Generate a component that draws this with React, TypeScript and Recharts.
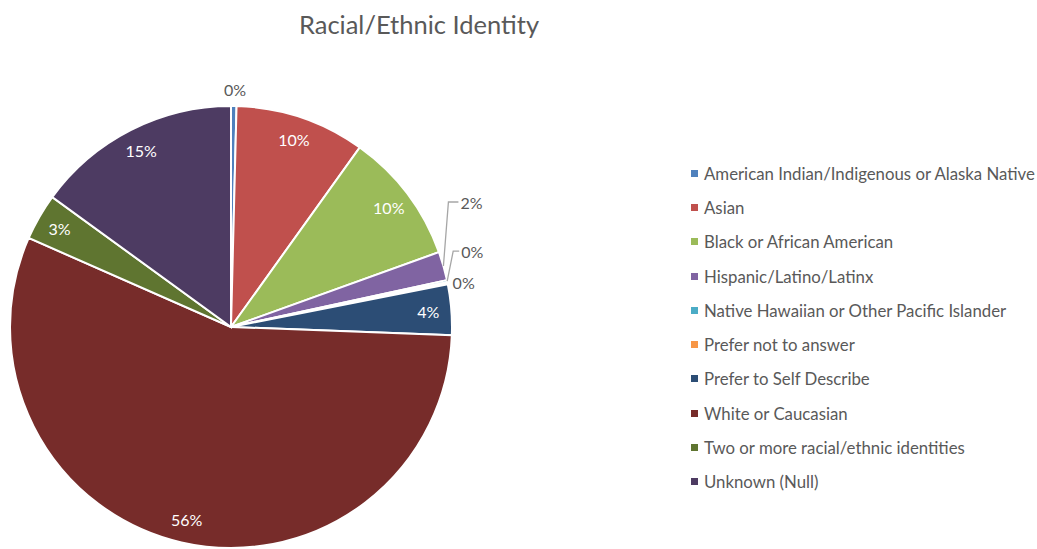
import React from "react";
import { PieChart, Pie, Cell } from "recharts";

const categories = [
  "American Indian/Indigenous or Alaska Native",
  "Asian",
  "Black or African American",
  "Hispanic/Latino/Latinx",
  "Native Hawaiian or Other Pacific Islander",
  "Prefer not to answer",
  "Prefer to Self Describe",
  "White or Caucasian",
  "Two or more racial/ethnic identities",
  "Unknown (Null)",
];

// share of respondents, in percent
const shares = [0.4, 9.5, 9.6, 2.1, 0.15, 0.15, 3.7, 56.0, 3.4, 15.0];

const colors = [
  "#4F81BD",
  "#C0504D",
  "#9BBB59",
  "#8064A2",
  "#4BACC6",
  "#F79646",
  "#2C4D75",
  "#772C2A",
  "#5F7530",
  "#4D3B62",
];

const data = categories.map((name, i) => ({ name, value: shares[i] }));

const RADIAN = Math.PI / 180;
const FONT = "Lato, 'Open Sans', sans-serif";
const LABEL_SIZE = 16;

function renderLabel(props: any) {
  const { cx, cy, midAngle, outerRadius, percent, index } = props;
  const text = `${Math.round(percent * 100)}%`;
  const cos = Math.cos(-midAngle * RADIAN);
  const sin = Math.sin(-midAngle * RADIAN);
  const ex = cx + outerRadius * cos;
  const ey = cy + outerRadius * sin;

  if (index === 0) {
    const r = outerRadius + 17;
    return (
      <text x={cx + r * cos + 1} y={cy + r * sin} fill="#595959" fontSize={LABEL_SIZE} fontFamily={FONT}
        textAnchor="middle" dominantBaseline="central">{text}</text>
    );
  }
  if (index === 3 || index === 4) {
    // outside labels with leader lines
    const dy = index === 3 ? -64 : -30;
    const dx = index === 3 ? 5 : 6;
    const bx = ex + dx;
    const by = ey + dy;
    const hx = bx + (index === 3 ? 10 : 6);
    return (
      <g>
        <polyline points={`${ex},${ey} ${bx},${by} ${hx},${by}`} fill="none" stroke="#A6A6A6" strokeWidth={1.3} />
        <text x={hx + 2} y={by} fill="#595959" fontSize={LABEL_SIZE} fontFamily={FONT} dominantBaseline="central">{text}</text>
      </g>
    );
  }
  if (index === 5) {
    return (
      <text x={ex + 5} y={ey - 1} fill="#595959" fontSize={LABEL_SIZE} fontFamily={FONT} dominantBaseline="central">{text}</text>
    );
  }
  const r = outerRadius * 0.895;
  return (
    <text x={cx + r * cos} y={cy + r * sin} fill="#FFFFFF" fontSize={LABEL_SIZE} fontFamily={FONT}
      textAnchor="middle" dominantBaseline="central">{text}</text>
  );
}

export default function App() {
  return (
    <div style={{ position: "absolute", left: 0, top: 0, width: 1037, height: 549, background: "#fff", overflow: "hidden" }}>
      <div style={{ position: "absolute", left: 0, top: 9, width: 838, textAlign: "center", fontFamily: FONT, fontSize: 25.5, color: "#595959" }}>
        Racial/Ethnic Identity
      </div>
      <PieChart width={1037} height={549} margin={{ top: 0, right: 0, bottom: 0, left: 0 }}>
        <Pie
          data={data}
          dataKey="value"
          nameKey="name"
          cx={231}
          cy={327}
          outerRadius={221}
          startAngle={90}
          endAngle={-270}
          stroke="#FFFFFF"
          strokeWidth={2}
          label={renderLabel}
          labelLine={false}
          isAnimationActive={false}
        >
          {data.map((d, i) => (
            <Cell key={d.name} fill={colors[i]} />
          ))}
        </Pie>
      </PieChart>
      <div style={{ position: "absolute", left: 690, top: 156, fontFamily: FONT, fontSize: 16.8, color: "#595959" }}>
        {categories.map((name, i) => (
          <div key={name} style={{ height: 34.3, display: "flex", alignItems: "center", whiteSpace: "nowrap" }}>
            <span style={{ width: 7, height: 7, background: colors[i], marginLeft: 1, marginRight: 6, display: "inline-block", flexShrink: 0 }} />
            <span>{name}</span>
          </div>
        ))}
      </div>
    </div>
  );
}
